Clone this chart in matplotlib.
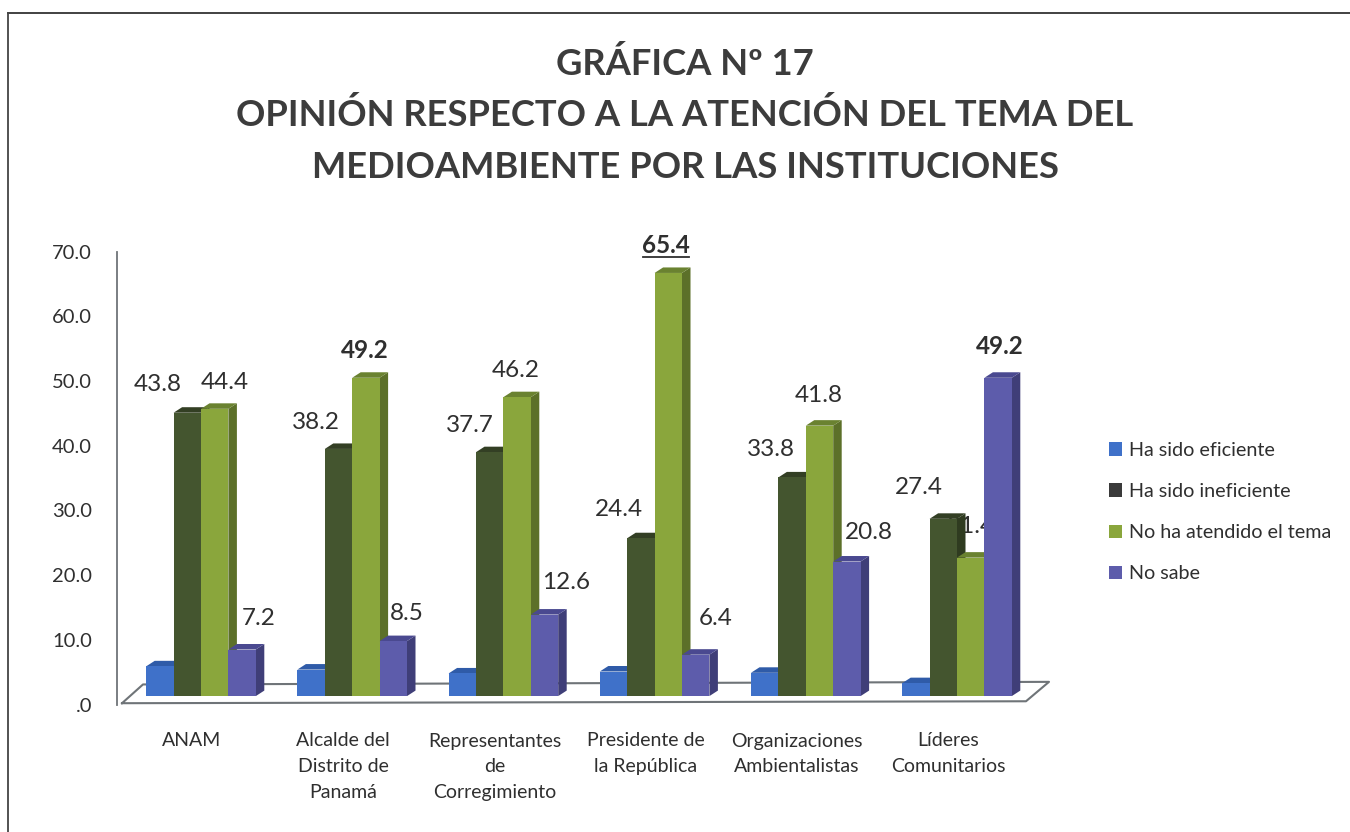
import matplotlib
matplotlib.use("Agg")
import matplotlib.pyplot as plt
from matplotlib.lines import Line2D
from matplotlib.patches import Patch, Polygon
import numpy as np

plt.rcParams['font.family'] = ['Lato', 'DejaVu Sans']

categories = ["ANAM", "Alcalde del\nDistrito de\nPanamá", "Representantes\nde\nCorregimiento",
              "Presidente de\nla República", "Organizaciones\nAmbientalistas", "Líderes\nComunitarios"]
series_names = ["Ha sido eficiente", "Ha sido ineficiente", "No ha atendido el tema", "No sabe"]
eficiente = [4.6, 4.1, 3.5, 3.8, 3.6, 2.0]
ineficiente = [43.8, 38.2, 37.7, 24.4, 33.8, 27.4]
no_atendido = [44.4, 49.2, 46.2, 65.4, 41.8, 21.4]
no_sabe = [7.2, 8.5, 12.6, 6.4, 20.8, 49.2]
y_ticks = [0, 10, 20, 30, 40, 50, 60, 70]
y_tick_labels = [".0", "10.0", "20.0", "30.0", "40.0", "50.0", "60.0", "70.0"]

front = ["#3f71c9", "#44552f", "#8aa63c", "#5d5cab"]
side = ["#2c4f8f", "#2f3b20", "#5c7029", "#3f3e78"]
topc = ["#2f5ba8", "#333f24", "#6a8230", "#4a4990"]
legend_colors = ["#3f71c9", "#3a3a3a", "#8aa63c", "#5d5cab"]

# label placement relative to each bar (pixels: dx, dy above bar top)
label_dx = [[None, -30, 10, 17], [None, -23, -1, 14], [None, -20, -1, 22],
            [None, -22, -2, 20], [None, -21, -1, 22], [None, -24, 0, 2]]
label_dy = [[None, 28, 26, 31], [None, 26, 27, 28], [None, 27, 27, 32],
            [None, 29, 27, 36], [None, 28, 30, 29], [None, 31, 31, 31]]

W, H, DPI = 1350, 832, 100
fig = plt.figure(figsize=(W / DPI, H / DPI), dpi=DPI, facecolor="white")

# pixel geometry of the plot box
PXL, PXR, PXT, PXB = 117, 1060, 240, 720
ax = fig.add_axes([PXL / W, 1 - PXB / H, (PXR - PXL) / W, (PXB - PXT) / H])
PX_PER_GROUP = 151.2
PX_PER_UNIT = 6.47
Y0 = 704.5
X0 = 201
ax.set_xlim((PXL - X0) / PX_PER_GROUP, (PXR - X0) / PX_PER_GROUP)
ax.set_ylim((Y0 - PXB) / PX_PER_UNIT, (Y0 - PXT) / PX_PER_UNIT)
ax.patch.set_alpha(0)

FLOOR = 1.3
BAR_W = 27.4 / PX_PER_GROUP
DX = 8.5 / PX_PER_GROUP
DY = 5.5 / PX_PER_UNIT
all_series = [eficiente, ineficiente, no_atendido, no_sabe]
x = np.arange(len(categories))

# floor
fx = [(122 - X0) / PX_PER_GROUP, (1026 - X0) / PX_PER_GROUP, (1049 - X0) / PX_PER_GROUP,
      (143 - X0) / PX_PER_GROUP, (122 - X0) / PX_PER_GROUP]
fy = [0.2, 0.5, 3.5, 3.1, 0.2]
ax.plot(fx, fy, color="#6f7478", lw=1.5, zorder=1, clip_on=False)

for s, vals in enumerate(all_series):
    for i, v in enumerate(vals):
        cx = x[i] + (s - 1.5) * BAR_W
        left, right = cx - BAR_W / 2, cx + BAR_W / 2
        top = v + FLOOR
        z = 3 + s * 0.1 + i
        ax.add_patch(Polygon([(right, FLOOR), (right + DX, FLOOR + DY), (right + DX, top + DY), (right, top)],
                             closed=True, fc=side[s], ec="none", zorder=z))
        ax.add_patch(Polygon([(left, top), (left + DX, top + DY), (right + DX, top + DY), (right, top)],
                             closed=True, fc=topc[s], ec="none", zorder=z))
        ax.bar(cx, v, BAR_W, bottom=FLOOR, color=front[s], zorder=z + 0.01)
        if label_dx[i][s] is not None:
            ax.annotate(f"{v:.1f}", (cx, top), xytext=(label_dx[i][s] * 0.72, label_dy[i][s] * 0.72),
                        textcoords="offset points", ha="center", va="center",
                        fontsize=17.5, color="#2f2f2f", zorder=2,
                        fontweight="bold" if v in (49.2, 65.4) else "normal")

# underline of the 65.4 label
ux = x[3] + 0.5 * BAR_W
ax.plot([ux - 25 / PX_PER_GROUP, ux + 21 / PX_PER_GROUP], [69.1, 69.1], color="#2f2f2f", lw=1.3, zorder=2)

# axes
for name in ("top", "right", "bottom"):
    ax.spines[name].set_visible(False)
ax.spines["left"].set_bounds(0, 70)
ax.spines["left"].set_color("#6f7478")
ax.spines["left"].set_linewidth(1.3)
ax.set_yticks(y_ticks, y_tick_labels, fontsize=14.5, color="#2f2f2f")
ax.tick_params(axis="y", length=0, pad=18)
ax.set_xticks(x - 9 / PX_PER_GROUP, categories, fontsize=14, color="#2f2f2f", linespacing=1.63)
ax.tick_params(axis="x", length=0, pad=9)

# title
for txt, yy in [("GRÁFICA Nº 17", 64),
                ("OPINIÓN RESPECTO A LA ATENCIÓN DEL TEMA DEL", 115),
                ("MEDIOAMBIENTE POR LAS INSTITUCIONES", 167)]:
    fig.text(685 / W, 1 - yy / H, txt, ha="center", va="center", fontsize=26.2,
             fontweight="bold", color="#3c3c3c")

# legend
handles = [Patch(fc=c, ec="none") for c in legend_colors]
fig.legend(handles, series_names, loc="upper left", bbox_to_anchor=(1109 / W, 1 - 442 / H),
           frameon=False, fontsize=14.2, labelcolor="#2f2f2f", handlelength=0.66, handleheight=0.66,
           handletextpad=0.36, labelspacing=1.22, borderpad=0, borderaxespad=0)

# scan border
fig.add_artist(Line2D([8 / W, 1], [1 - 13 / H, 1 - 13 / H], color="#333333", lw=1.3))
fig.add_artist(Line2D([8 / W, 8 / W], [1 - 13 / H, 0], color="#444444", lw=1.3))

fig.savefig("out.png", dpi=DPI)
